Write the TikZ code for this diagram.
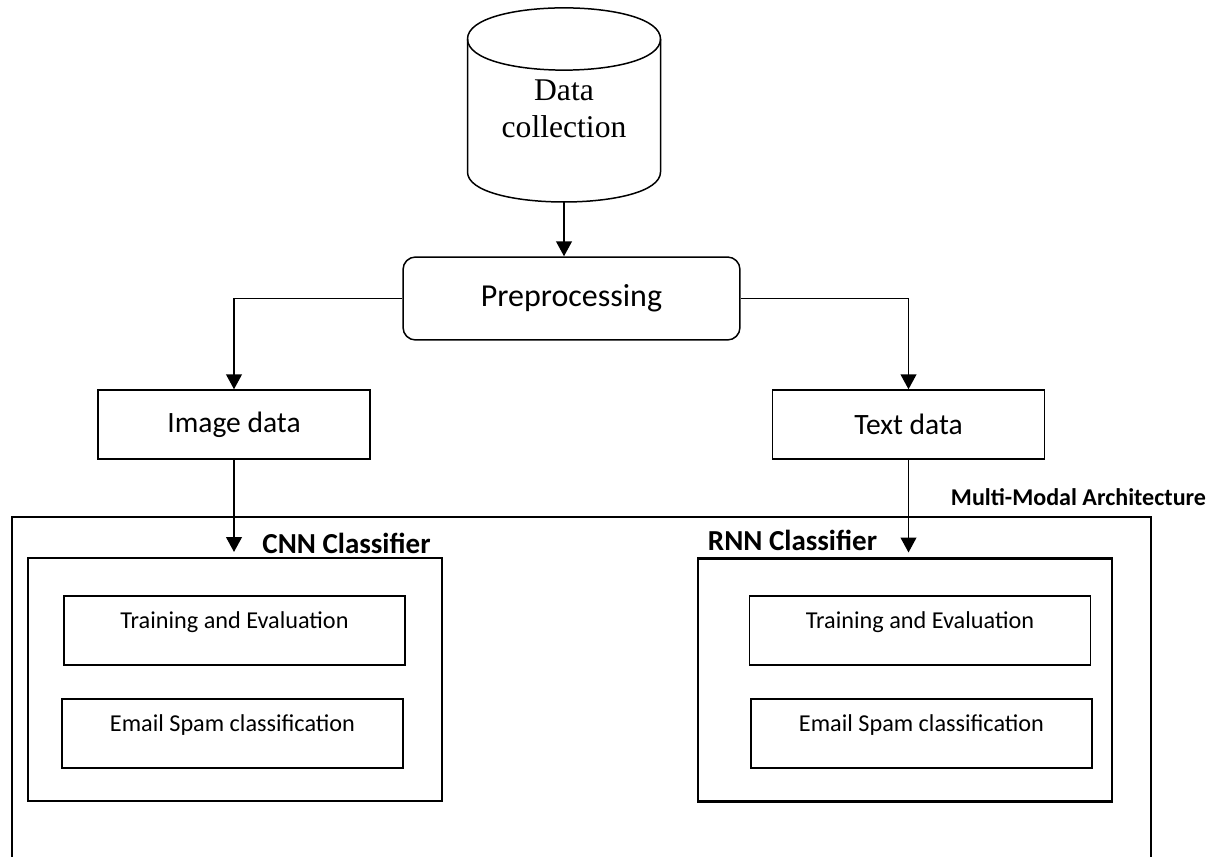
\documentclass[tikz,border=0pt]{standalone}
\usepackage{fontspec}
\setmainfont{Carlito}
\newfontfamily\serifface{Liberation Serif}
\usetikzlibrary{arrows.meta}
\begin{document}
\begin{tikzpicture}[x=0.02cm,y=-0.02cm,
  flow/.style={line width=0.9pt, -{Triangle[width=9pt,length=8.5pt]}},
  procbox/.style={draw, line width=0.85pt, rounded corners=0.25cm,
    minimum width=6.74cm, minimum height=1.66cm, inner sep=0pt,
    font=\fontsize{18.2}{21}\selectfont},
  databox/.style={draw, line width=0.85pt, minimum width=5.44cm,
    minimum height=1.38cm, inner sep=0pt, font=\fontsize{16.8}{19}\selectfont},
  classbox/.style={draw, line width=1.2pt, minimum width=8.28cm,
    minimum height=4.86cm, inner sep=0pt},
  stagebox/.style={draw, line width=0.8pt, minimum width=6.82cm,
    minimum height=1.38cm, inner sep=0pt, text height=0.33cm, text depth=0.4cm,
    font=\fontsize{13.8}{16}\selectfont},
  heading/.style={inner sep=0pt, font=\bfseries\fontsize{16.5}{19}\selectfont},
  frame/.style={line width=1.2pt}]
\useasboundingbox (0,0) rectangle (1222,857);

% data store (cylinder)
\draw[line width=0.85pt] (467.5,39) .. controls (467.5,-2.5) and (660.5,-2.5) .. (660.5,39)
  .. controls (660.5,80.5) and (467.5,80.5) .. (467.5,39) -- cycle;
\draw[line width=0.85pt] (467.5,39) -- (467.5,172)
  .. controls (467.5,212) and (660.5,212) .. (660.5,172) -- (660.5,39);
\node[minimum width=3.86cm, minimum height=3.72cm, inner sep=0pt, align=center,
  font=\serifface\fontsize{18}{21}\selectfont] (data) at (564,109) {Data\\collection};

% preprocessing and the two data streams
\node[procbox] (pre) at (571.5,298.5) {Preprocessing};
\node[databox] (img) at (234,424.5) {Image data};
\node[databox] (txt) at (908.5,424.5) {Text data};

% multi-modal frame
\draw[frame] (12,857) -- (12,517) -- (1151,517) -- (1151,857);
\node[inner sep=0pt, font=\bfseries\fontsize{13.7}{16}\selectfont] (mma) at (1078.5,497) {Multi-Modal Architecture};

% classifiers
\node[classbox] (cnn) at (235,679.5) {};
\node[classbox] (rnn) at (905,680) {};
\node[heading] (cnnlbl) at (346.5,543) {CNN Classifier};
\node[heading] (rnnlbl) at (792.5,540) {RNN Classifier};

\node[stagebox] (cnntrain) at (234.5,630.5) {Training and Evaluation};
\node[stagebox] (cnnspam) at (232.5,733.5) {Email Spam classification};
\node[stagebox] (rnntrain) at (920,630.5) {Training and Evaluation};
\node[stagebox] (rnnspam) at (921.5,733.5) {Email Spam classification};

% connectors
\draw[flow] (data.south) -- (data.south |- pre.north);
\draw[flow] (pre.west) -| (img.north);
\draw[flow] (pre.east) -| (txt.north);
\draw[flow, shorten >=0.1cm] (img.south) -- (img.south |- cnn.north);
\draw[flow, shorten >=0.1cm] (txt.south) -- (txt.south |- rnn.north);
\end{tikzpicture}
\end{document}
